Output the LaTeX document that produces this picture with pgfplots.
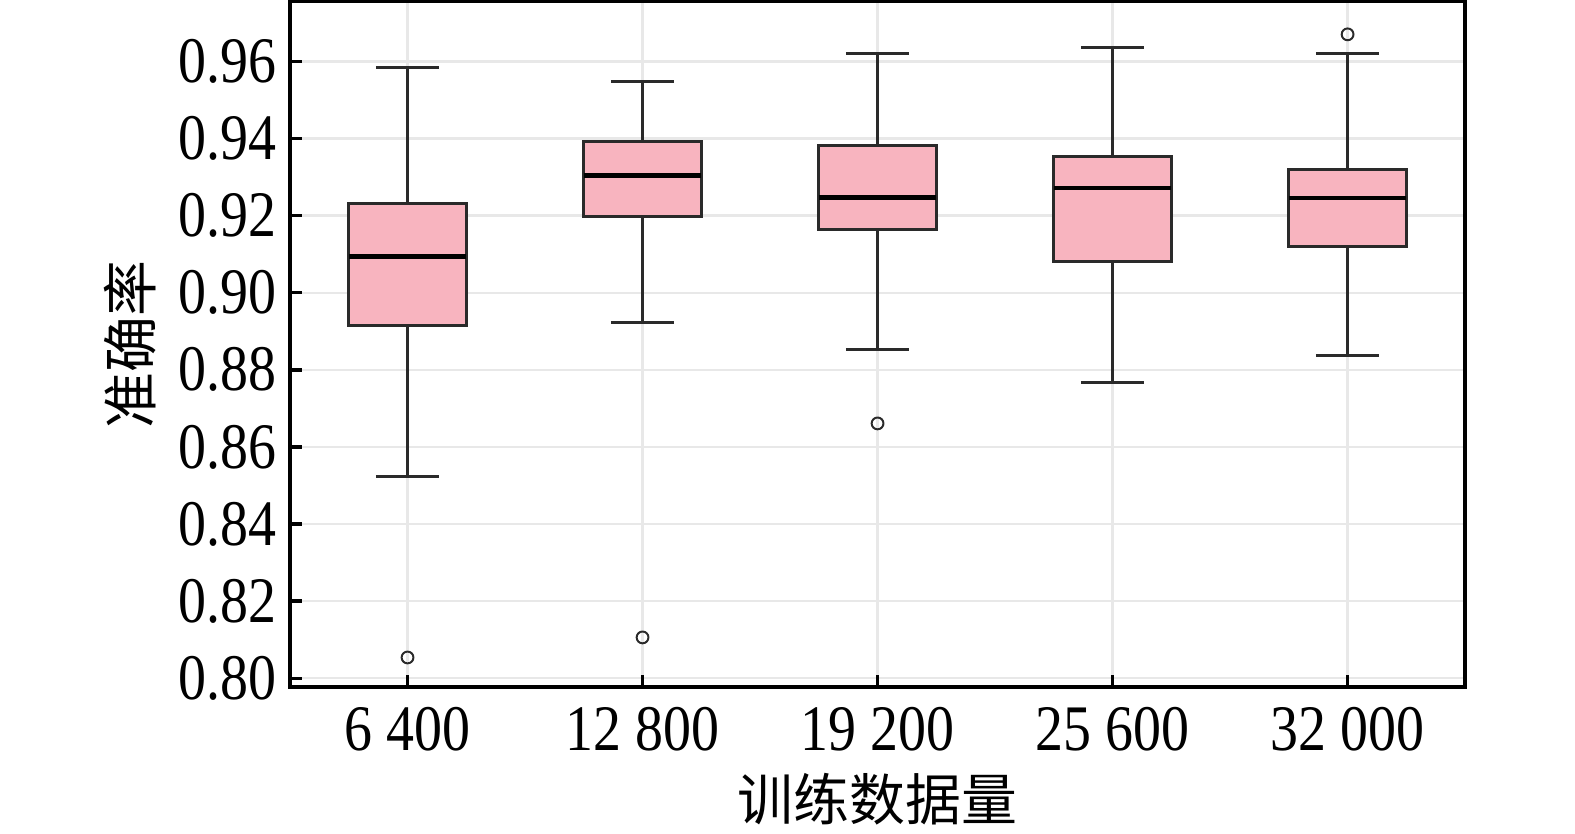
\documentclass[border=0pt]{standalone}
\usepackage{fontspec}
\setmainfont{Liberation Serif}
\newfontfamily\tickfont[FakeStretch=0.86]{Liberation Serif}
\newfontfamily\cjk{Noto Sans CJK SC}
\usepackage{pgfplots}
\usepgfplotslibrary{statistics}
\pgfplotsset{compat=1.18}
\definecolor{boxpink}{HTML}{F8B4BF}
\definecolor{boxedge}{HTML}{2A2A2A}
\definecolor{gridgray}{HTML}{E8E8E8}
\begin{document}
\begin{tikzpicture}
\useasboundingbox (-73.65pt,-37.08pt) rectangle (326.3pt,174.5pt);
\begin{axis}[
  anchor=south west, at={(0pt,0pt)},
  scale only axis,
  width=298.4pt, height=174.2pt,
  xmin=-0.5, xmax=4.5,
  ymin=0.7977, ymax=0.9756,
  xtick={0,1,2,3,4},
  xticklabels={6\ 400,12\ 800,19\ 200,25\ 600,32\ 000},
  ytick={0.80,0.82,0.84,0.86,0.88,0.90,0.92,0.94,0.96},
  yticklabel style={/pgf/number format/fixed, /pgf/number format/fixed zerofill, /pgf/number format/precision=2},
  xticklabel style={yshift=-1.5pt},
  /pgf/number format/assume math mode=true,
  tick label style={font=\fontsize{16.5}{18}\selectfont\tickfont},
  label style={font=\fontsize{14.2}{16}\selectfont\cjk},
  xlabel={训练数据量},
  ylabel={准确率},
  xlabel style={at={(axis description cs:0.5,-0.164)}, anchor=center},
  ylabel style={at={(axis description cs:-0.136,0.5)}, anchor=center, rotate=0},
  grid=major,
  major grid style={gridgray, line width=0.6pt},
  axis line style={black, line width=1pt},
  tick style={black, line width=0.9pt},
  tick align=inside,
  major tick length=3pt,
  xtick pos=bottom, ytick pos=left,
  boxplot/draw direction=y,
  boxplot/box extend=0.5,
  boxplot/whisker extend=0.27,
  boxplot/every box/.style={draw=boxedge, fill=boxpink, line width=0.8pt},
  boxplot/every whisker/.style={draw=boxedge, line width=0.7pt},
  boxplot/every median/.style={draw=black, line width=1.1pt},
]
\addplot[boxplot prepared={draw position=0, lower whisker=0.8524, lower quartile=0.8915, median=0.9094, upper quartile=0.9232, upper whisker=0.9584},
  mark=o, mark size=1.5pt, mark options={draw=boxedge, line width=0.5pt}]
  coordinates {(0,0.8054)};
\addplot[boxplot prepared={draw position=1, lower whisker=0.8923, lower quartile=0.9198, median=0.9304, upper quartile=0.9392, upper whisker=0.9548},
  mark=o, mark size=1.5pt, mark options={draw=boxedge, line width=0.5pt}]
  coordinates {(1,0.8106)};
\addplot[boxplot prepared={draw position=2, lower whisker=0.8853, lower quartile=0.9164, median=0.9247, upper quartile=0.9382, upper whisker=0.9621},
  mark=o, mark size=1.5pt, mark options={draw=boxedge, line width=0.5pt}]
  coordinates {(2,0.8661)};
\addplot[boxplot prepared={draw position=3, lower whisker=0.8767, lower quartile=0.9081, median=0.9271, upper quartile=0.9354, upper whisker=0.9636},
  mark=o, mark size=1.5pt, mark options={draw=boxedge, line width=0.5pt}]
  coordinates {};
\addplot[boxplot prepared={draw position=4, lower whisker=0.8837, lower quartile=0.9120, median=0.9245, upper quartile=0.9320, upper whisker=0.9621},
  mark=o, mark size=1.5pt, mark options={draw=boxedge, line width=0.5pt}]
  coordinates {(4,0.9670)};
\end{axis}
\end{tikzpicture}
\end{document}
